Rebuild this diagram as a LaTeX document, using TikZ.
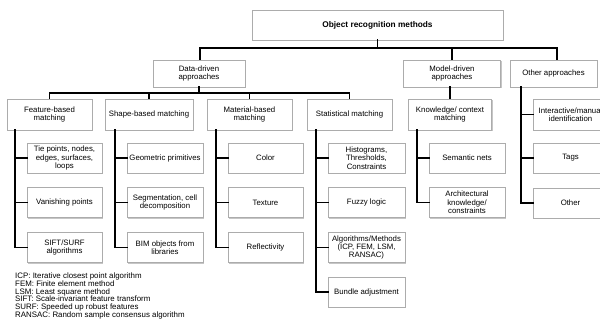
\documentclass[tikz,border=0pt]{standalone}
\usepackage{fontspec}
\setmainfont{Liberation Sans}
\usetikzlibrary{shadows}
\begin{document}
\begin{tikzpicture}[x=1pt,y=-1pt,
  box/.style={draw=gray!65, line width=0.6pt, fill=white, align=center,
    font=\fontsize{7.8}{8.4}\selectfont, inner sep=1pt,
    drop shadow={shadow xshift=1.2pt, shadow yshift=-1.2pt, fill=gray!45, opacity=1}},
  lvl/.style={box, minimum height=27pt},
  mid/.style={box, minimum height=31pt},
  leaf/.style={box, minimum height=30pt},
  conn/.style={line width=1.6pt, line cap=rect}]
\clip (0,0) rectangle (600,326);
\useasboundingbox (0,0) rectangle (600,326);
% root
\node[box, minimum width=251pt, minimum height=30pt, font=\bfseries\fontsize{8.3}{9}\selectfont] (top) at (377.5,25) {Object recognition methods};
% level 1
\node[lvl, minimum width=92pt] (data) at (199,73.5) {Data-driven\\approaches};
\node[lvl, minimum width=97pt] (model) at (452,73.5) {Model-driven\\approaches};
\node[lvl, minimum width=87pt] (oth) at (553.5,73.5) {Other approaches};
% level 2
\node[mid, minimum width=85pt] (feat) at (49.5,114.5) {Feature-based\\matching};
\node[mid, minimum width=88pt] (shape) at (149,114.5) {Shape-based matching};
\node[mid, minimum width=85pt] (mat) at (249.5,114.5) {Material-based\\matching};
\node[mid, minimum width=85pt] (stat) at (349.5,114.5) {Statistical matching};
\node[mid, minimum width=83pt] (know) at (450,114.5) {Knowledge/ context\\matching};
\node[mid, minimum width=75pt] (inter) at (570.5,114.5) {Interactive/manual\\identification};
% leaves col 1
\node[leaf, minimum width=75pt] (tie) at (64.5,158) {Tie points, nodes,\\edges, surfaces,\\loops};
\node[leaf, minimum width=75pt] (van) at (64.5,202.5) {Vanishing points};
\node[leaf, minimum width=75pt] (sift) at (64.5,247.5) {SIFT/SURF\\algorithms};
% col 2
\node[leaf, minimum width=76pt] (geo) at (165,158) {Geometric primitives};
\node[leaf, minimum width=76pt] (seg) at (165,202.5) {Segmentation, cell\\decomposition};
\node[leaf, minimum width=76pt] (bim) at (165,247.5) {BIM objects from\\libraries};
% col 3
\node[leaf, minimum width=75pt] (col) at (265.5,158) {Color};
\node[leaf, minimum width=75pt] (tex) at (265.5,202.5) {Texture};
\node[leaf, minimum width=75pt] (ref) at (265.5,247.5) {Reflectivity};
% col 4
\node[leaf, minimum width=77pt] (hist) at (366.5,158) {Histograms,\\Thresholds,\\Constraints};
\node[leaf, minimum width=77pt] (fuz) at (366.5,202.5) {Fuzzy logic};
\node[leaf, minimum width=77pt] (alg) at (366.5,247.5) {Algorithms/Methods\\(ICP, FEM, LSM,\\RANSAC)};
\node[leaf, minimum width=77pt] (bun) at (366.5,292) {Bundle adjustment};
% col 5
\node[leaf, minimum width=76pt] (sem) at (467,158) {Semantic nets};
\node[leaf, minimum width=76pt] (arc) at (467,202.5) {Architectural\\knowledge/\\constraints};
% col 6
\node[leaf, minimum width=75pt] (tag) at (570.5,158) {Tags};
\node[leaf, minimum width=75pt] (otr) at (570.5,203) {Other};
% legend
\node[anchor=north west, align=left, inner sep=0pt, font=\fontsize{7.9}{7.85}\selectfont] (leg) at (15,272.5)
 {ICP: Iterative closest point algorithm\\
  FEM: Finite element method\\
  LSM: Least square method\\
  SIFT: Scale-invariant feature transform\\
  SURF: Speeded up robust features\\
  RANSAC: Random sample consensus algorithm};
% connectors top
\coordinate (tl) at (200,48);
\coordinate (tr) at (557,48);
\draw[conn] (tl) -- (tr);
\draw[conn] (top.south) -- (top.south |- tl);
\draw[conn] (tl) -- (tl |- data.north);
\draw[conn] (model.north |- tl) -- (model.north);
\draw[conn] (tr) -- (tr |- oth.north);
% data-driven
\coordinate (dl) at (200,93);
\draw[conn] (data.south) -- (data.south |- dl);
\draw[conn] (feat.north |- dl) -- (stat.north |- dl);
\foreach \n in {feat,shape,mat,stat} \draw[conn] (\n.north |- dl) -- (\n.north);
% model-driven
\draw[conn] (know.north |- model.south) -- (know.north);
% columns
\coordinate (v1) at (15,0);
\coordinate (v2) at (115,0);
\coordinate (v3) at (216,0);
\coordinate (v4) at (316,0);
\coordinate (v5) at (417,0);
\coordinate (v6) at (521,0);
\draw[conn] (v1 |- feat.south) |- (sift.west);
\foreach \n in {tie,van} \draw[conn] (v1 |- \n.west) -- (\n.west);
\draw[conn] (v2 |- shape.south) |- (bim.west);
\foreach \n in {geo,seg} \draw[conn] (v2 |- \n.west) -- (\n.west);
\draw[conn] (v3 |- mat.south) |- (ref.west);
\foreach \n in {col,tex} \draw[conn] (v3 |- \n.west) -- (\n.west);
\draw[conn] (v4 |- stat.south) |- (bun.west);
\foreach \n in {hist,fuz,alg} \draw[conn] (v4 |- \n.west) -- (\n.west);
\draw[conn] (v5 |- know.south) |- (arc.west);
\draw[conn] (v5 |- sem.west) -- (sem.west);
\draw[conn] (v6 |- oth.south) |- (otr.west);
\foreach \n in {inter,tag} \draw[conn] (v6 |- \n.west) -- (\n.west);
\end{tikzpicture}
\end{document}
